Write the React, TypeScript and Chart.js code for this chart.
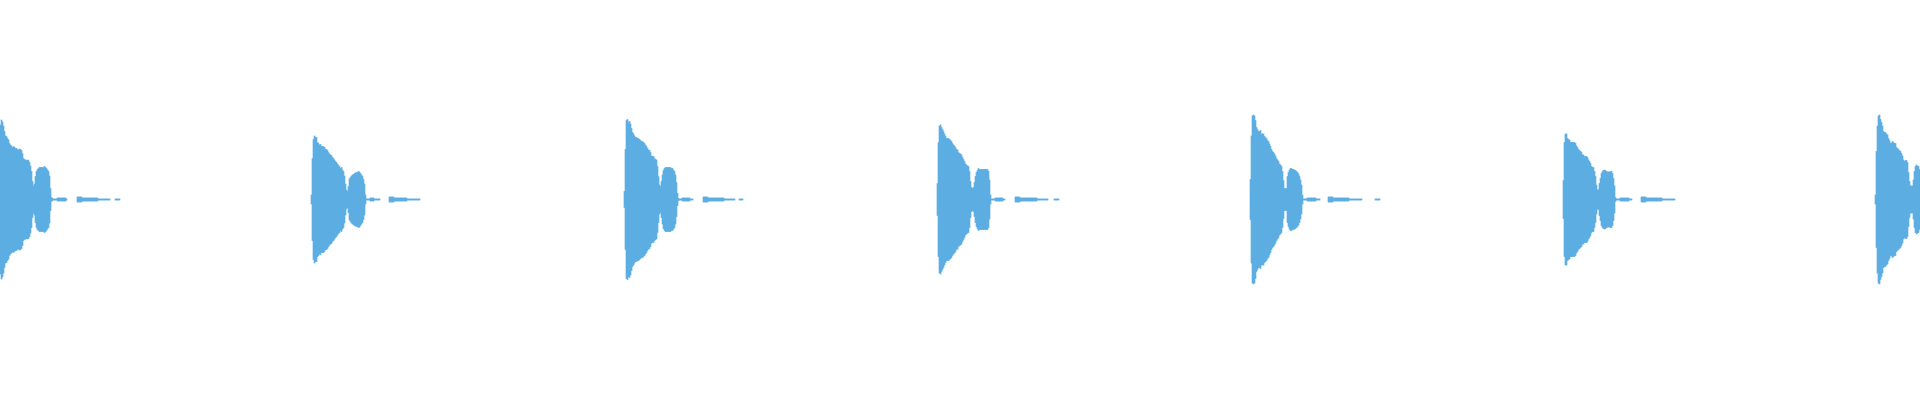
import React, { useEffect, useRef } from 'react';
import Chart from 'chart.js/auto';

// waveform peaks, one value per column (level units, centre line = 0)
const COLUMNS = 1920;
const WAVE_COLOR = '#5dade2';

// first column of each burst
const burstStarts = [0, 311, 624, 937, 1250, 1563, 1875];

// peak level per column for the body of each burst
const burst1 = [74.5, 79.5, 77.5, 73.5, 68, 63.5, 63, 61, 59.5, 56, 54.5, 53.5, 52, 53, 52, 51, 51, 50, 49.5, 50.5, 50, 49, 46, 41, 40, 39.5, 39, 39.5, 39, 37, 33.5, 28, 18, 13.5, 15.5, 23, 28, 30, 31, 32, 32, 32, 32, 32, 33, 32, 31, 29.5, 28, 23.5, 11, 2, 1, 0.5];
const burst2 = [4.5, 41, 60, 63.5, 62, 62, 57, 56, 54.5, 55, 53, 53, 53, 52, 50, 50, 49, 47, 45.5, 44.5, 44, 42, 41, 39.5, 38, 37, 35.5, 34, 33, 31, 32, 29.5, 28, 23.5, 15.5, 9.5, 8, 13, 20.5, 22, 23.5, 24.5, 25, 26, 26.5, 27, 27, 28, 27.5, 26, 24.5, 23, 20, 15.5, 4.5, 0.5];
const burst3 = [8, 50, 79, 80, 77, 78, 75.5, 71, 67, 65.5, 63.5, 62, 62, 61, 61, 60, 59, 58, 58, 57, 56, 54.5, 53, 51, 49.5, 49, 47, 43.5, 43, 43, 41, 40, 39.5, 33, 23, 14.5, 13, 18, 24.5, 29, 31, 32, 32, 32, 32, 32, 32, 31, 31, 29.5, 28, 24.5, 17, 6, 1];
const burst4 = [16, 57, 73.5, 74.5, 72, 70, 68, 65.5, 63, 61, 61, 61, 60, 59, 58, 56, 54.5, 53.5, 52, 50, 49.5, 47, 46, 45.5, 44.5, 42, 40, 38, 35.5, 34.5, 33.5, 33, 28, 18, 12, 11, 12, 17, 23, 27, 29, 31, 30, 30, 30, 30, 30, 30, 30, 30, 30, 28, 19.5, 4.5, 0.5];
const burst5 = [20, 63.5, 83.5, 84.5, 83.5, 79, 72, 70, 68, 68, 69, 65.5, 65.5, 65.5, 63, 62, 61, 59, 58, 55.5, 53, 50, 48, 47, 45.5, 43.5, 41, 39.5, 38, 35.5, 34.5, 33, 28, 19, 11, 11, 11, 23, 27, 29.5, 31, 31, 30, 30, 29.5, 29, 28, 27, 25.5, 23, 19.5, 14.5, 4.5, 0.5];
const burst6 = [19, 57, 65.5, 65.5, 61, 60, 59.5, 57, 57, 57, 57, 57, 56, 53.5, 52, 50, 49, 48, 47, 44.5, 44.5, 43, 43, 43, 42, 39.5, 38, 36, 33, 32, 32, 28, 23, 14.5, 9.5, 10, 16, 21, 26, 28, 29, 29.5, 29, 28, 27.5, 27.5, 27.5, 28, 28, 26, 21, 13.5, 2, 0.5];
const burst7 = [4.5, 48, 73.5, 83.5, 84.5, 80, 77, 73.5, 68, 67, 67, 65.5, 64.5, 61, 59, 56, 56.5, 58, 57, 56, 56, 52, 51, 50, 49, 48, 46, 43.5, 39.5, 38, 39, 39, 37, 27, 18, 13.5, 13.5, 13.5, 19.5, 28, 33, 34.5, 33.5, 33, 30];
const burstBodies = [burst1, burst2, burst3, burst4, burst5, burst6, burst7];

// quiet tails after each burst: [from column, to column, level]
const tail1 = [[53, 57, 0.5], [57, 66, 1.5], [66, 67, 0.5], [77, 82, 2.5], [82, 98, 1.5], [98, 110, 0.5], [115, 120, 0.5]];
const tail2 = [[366, 370, 0.5], [370, 374, 1.5], [374, 380, 0.5], [389, 394, 2.5], [394, 407, 1.5], [407, 420, 0.5]];
const tail3 = [[679, 682, 0.5], [682, 690, 1.5], [690, 693, 0.5], [703, 708, 2.5], [708, 724, 1.5], [724, 735, 0.5], [739, 743, 0.5]];
const tail4 = [[992, 995, 0.5], [995, 1003, 1.5], [1003, 1005, 0.5], [1015, 1020, 2.5], [1020, 1037, 1.5], [1037, 1048, 0.5], [1054, 1059, 0.5]];
const tail5 = [[1304, 1307, 0.5], [1307, 1316, 1.5], [1316, 1320, 0.5], [1328, 1333, 2.5], [1333, 1349, 1.5], [1349, 1362, 0.5], [1375, 1380, 0.5]];
const tail6 = [[1617, 1620, 0.5], [1620, 1629, 1.5], [1629, 1632, 0.5], [1641, 1646, 2.5], [1646, 1662, 1.5], [1662, 1675, 0.5]];
const burstTails = [tail1, tail2, tail3, tail4, tail5, tail6];

function buildPeaks(): number[] {
  const peaks = new Array(COLUMNS).fill(0);
  burstBodies.forEach((body, b) => {
    body.forEach((v, i) => {
      const col = burstStarts[b] + i;
      if (col < COLUMNS) peaks[col] = v;
    });
  });
  burstTails.forEach((tail) => {
    tail.forEach(([from, to, level]) => {
      for (let c = from; c < to && c < COLUMNS; c++) peaks[c] = level;
    });
  });
  return peaks;
}

export default function App() {
  const chartRef = useRef<HTMLCanvasElement>(null);
  const chartInstance = useRef<Chart | null>(null);

  useEffect(() => {
    document.body.style.margin = '0';
    if (!chartRef.current) return;
    const ctx = chartRef.current.getContext('2d');
    if (!ctx) return;

    if (chartInstance.current) {
      chartInstance.current.destroy();
    }

    const peaks = buildPeaks();
    const labels = peaks.map((_, i) => String(i));

    chartInstance.current = new Chart(ctx, {
      type: 'bar',
      data: {
        labels,
        datasets: [
          {
            // each column is a floating bar from -peak to +peak
            data: peaks.map((p) => (p > 0 ? [-p, p] : null)) as any,
            backgroundColor: WAVE_COLOR,
            borderWidth: 0,
            barPercentage: 1,
            categoryPercentage: 1,
          },
        ],
      },
      options: {
        animation: false,
        responsive: true,
        maintainAspectRatio: false,
        layout: { padding: 0 },
        plugins: {
          legend: { display: false },
          tooltip: { enabled: false },
        },
        scales: {
          x: { display: false, offset: true, grid: { display: false } },
          y: { display: false, min: -200.5, max: 199.5, grid: { display: false } },
        },
      },
    });

    return () => {
      if (chartInstance.current) {
        chartInstance.current.destroy();
        chartInstance.current = null;
      }
    };
  }, []);

  return (
    <div style={{ position: 'absolute', left: 0, top: 0, width: 1920, height: 400, background: '#fff' }}>
      <canvas ref={chartRef}></canvas>
    </div>
  );
}
